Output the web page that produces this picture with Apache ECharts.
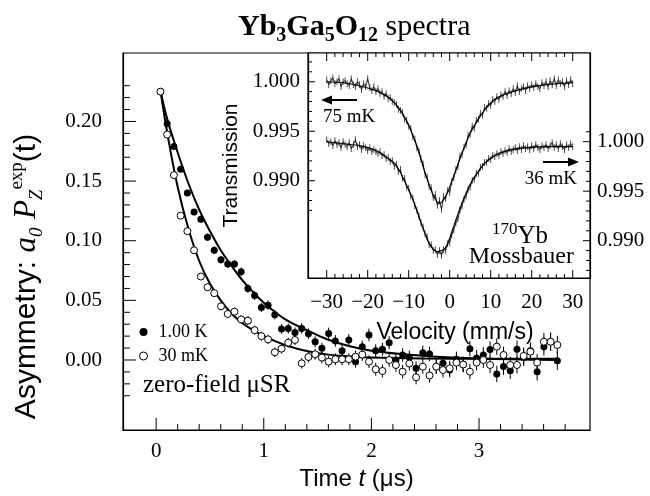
<!DOCTYPE html>
<html><head><meta charset="utf-8">
<script src="https://cdn.jsdelivr.net/npm/echarts@6/dist/echarts.min.js"></script>
<style>html,body{margin:0;padding:0;background:#fff}#c{width:650px;height:496px}</style>
</head><body><div id="c"></div><script>
// ---------- muSR data (main plot) ----------
const times = [0.04,0.1025,0.165,0.2275,0.29,0.3525,0.415,0.4775,0.54,0.6025,
0.665,0.7275,0.79,0.8525,0.915,0.9775,1.04,1.1025,1.165,1.2275,
1.29,1.3525,1.415,1.4775,1.54,1.6025,1.665,1.7275,1.79,1.8525,
1.915,1.9775,2.04,2.1025,2.165,2.2275,2.29,2.3525,2.415,2.4775,
2.54,2.6025,2.665,2.7275,2.79,2.8525,2.915,2.9775,3.04,3.1025,
3.165,3.2275,3.29,3.3525,3.415,3.4775,3.54,3.6025,3.665,3.7275];
const asym1K = [0.225,0.198,0.179,0.160,0.140,0.124,0.118,0.103,0.092,0.084,
0.0805,0.0805,0.074,0.060,0.054,0.044,0.046,0.038,0.026,0.0265,
0.023,0.0265,0.022,0.0153,0.0098,0.0223,0.016,0.0078,0.0168,-0.0014,
0.011,0.021,0.0078,0.009,0.0145,0.000,0.0042,0.0022,-0.007,0.0061,
0.005,-0.0056,-0.0028,-0.0084,0.0006,-0.0036,0.0095,0.0017,0.0042,0.0087,
-0.0117,-0.0055,-0.009,0.009,0.002,0.0077,-0.0098,0.0112,0.0153,-0.0006];
const asym30mK = [0.225,0.189,0.155,0.121,0.108,0.092,0.070,0.061,0.056,0.045,
0.0386,0.0405,0.034,0.033,0.025,0.020,0.0173,0.0065,0.0095,0.0145,
0.0168,-0.0028,0.0025,0.0048,0.002,-0.0014,0.0006,0.0006,0.0006,0.0028,
0.0045,-0.0014,-0.0078,-0.0092,0.000,-0.0042,-0.0098,-0.003,-0.0145,-0.0056,
-0.013,-0.0056,-0.0084,-0.007,-0.0022,-0.0038,-0.0098,-0.0022,0.000,-0.0042,
0.0112,0.0042,-0.0042,-0.0042,0.0034,0.007,-0.0022,0.0153,0.0153,0.0126];
const asymErr = [0.0018,0.002,0.002,0.0022,0.0024,0.0026,0.0028,0.003,0.0031,0.0032,
0.0033,0.0034,0.0035,0.0036,0.0037,0.0038,0.0039,0.004,0.0041,0.0042,
0.0043,0.0044,0.0045,0.0046,0.0047,0.0048,0.0049,0.005,0.005,0.0051,
0.0052,0.0053,0.0054,0.0055,0.0055,0.0056,0.0057,0.0058,0.0059,0.006,
0.006,0.0061,0.0062,0.0063,0.0064,0.0065,0.0065,0.0066,0.0067,0.0068,
0.0069,0.007,0.007,0.0071,0.0072,0.0073,0.0074,0.0075,0.0076,0.0077];
const fit1KT = [0.04,0.1,0.2,0.3,0.4,0.5,0.6,0.7,0.8,0.9,1.0,1.2,1.4,1.6,1.8,2.0,2.3,2.6,3.0,3.4,3.73];
const fit1KA = [0.226,0.203,0.174,0.148,0.126,0.108,0.092,0.079,0.067,0.057,0.048,0.034,0.025,0.017,0.0115,0.0078,0.0048,0.0028,0.0012,0.0004,0.0];
const fit30T = [0.04,0.1,0.2,0.3,0.4,0.5,0.6,0.7,0.8,0.9,1.0,1.1,1.2,1.4,1.6,1.8,2.0,2.5,3.0,3.73];
const fit30A = [0.226,0.192,0.145,0.110,0.083,0.064,0.050,0.039,0.031,0.025,0.020,0.016,0.0125,0.0075,0.0045,0.003,0.002,0.0012,0.001,0.001];
const timeTicks = [0,1,2,3];
const timeMinor = [0.2,0.4,0.6,0.8,1.2,1.4,1.6,1.8,2.2,2.4,2.6,2.8,3.2,3.4,3.6,3.8];
const asymTicks = [0,0.05,0.10,0.15,0.20];
const asymMinor = [-0.03,-0.02,-0.01,0.01,0.02,0.03,0.04,0.06,0.07,0.08,0.09,0.11,0.12,0.13,0.14,0.16,0.17,0.18,0.19,0.21,0.22,0.23];

// ---------- Mossbauer data (inset) ----------
const velocity = [-30,-29.5,-29,-28.5,-28,-27.5,-27,-26.5,-26,-25.5,
-25,-24.5,-24,-23.5,-23,-22.5,-22,-21.5,-21,-20.5,
-20,-19.5,-19,-18.5,-18,-17.5,-17,-16.5,-16,-15.5,
-15,-14.5,-14,-13.5,-13,-12.5,-12,-11.5,-11,-10.5,
-10,-9.5,-9,-8.5,-8,-7.5,-7,-6.5,-6,-5.5,
-5,-4.5,-4,-3.5,-3,-2.5,-2,-1.5,-1,-0.5,
0,0.5,1,1.5,2,2.5,3,3.5,4,4.5,
5,5.5,6,6.5,7,7.5,8,8.5,9,9.5,
10,10.5,11,11.5,12,12.5,13,13.5,14,14.5,
15,15.5,16,16.5,17,17.5,18,18.5,19,19.5,
20,20.5,21,21.5,22,22.5,23,23.5,24,24.5,
25,25.5,26,26.5,27,27.5,28,28.5,29,29.5,30];
const trans75mK = [1.0002,0.9997,1.0001,1.0004,0.9998,1.0000,1.0003,0.9995,1.0000,1.0001,
0.9998,0.9996,1.0003,0.9997,0.9995,1.0000,0.9997,0.9992,0.9998,0.9995,
1.0003,0.9994,0.9991,0.9995,0.9990,0.9993,0.9988,0.9990,0.9985,0.9988,
0.9983,0.9984,0.9980,0.9979,0.9977,0.9972,0.9971,0.9969,0.9962,0.9961,
0.9955,0.9953,0.9944,0.9942,0.9933,0.9930,0.9922,0.9917,0.9906,0.9904,
0.9894,0.9893,0.9883,0.9886,0.9875,0.9880,0.9871,0.9884,0.9882,0.9890,
0.9888,0.9899,0.9903,0.9911,0.9914,0.9925,0.9926,0.9934,0.9936,0.9946,
0.9947,0.9955,0.9953,0.9961,0.9962,0.9968,0.9966,0.9974,0.9973,0.9978,
0.9976,0.9982,0.9980,0.9985,0.9982,0.9987,0.9985,0.9990,0.9986,0.9991,
0.9988,0.9993,0.9989,0.9996,0.9990,0.9993,0.9995,0.9991,0.9996,0.9993,
0.9997,0.9994,0.9998,0.9995,0.9993,0.9999,0.9996,1.0000,0.9995,1.0001,
0.9997,1.0003,0.9996,1.0002,0.9998,1.0000,0.9995,1.0001,0.9997,1.0002,0.9998];
const trans36mK = [1.0002,0.9998,1.0000,0.9996,1.0001,0.9997,0.9999,0.9994,1.0000,0.9997,
0.9995,0.9999,0.9993,0.9997,1.0002,0.9995,0.9997,0.9992,0.9996,0.9994,
0.9991,0.9994,0.9990,0.9992,0.9990,0.9988,0.9990,0.9986,0.9987,0.9983,
0.9984,0.9980,0.9981,0.9975,0.9977,0.9970,0.9972,0.9963,0.9963,0.9954,
0.9953,0.9945,0.9943,0.9935,0.9931,0.9925,0.9918,0.9914,0.9907,0.9904,
0.9896,0.9896,0.9890,0.9891,0.9886,0.9890,0.9885,0.9891,0.9890,0.9897,
0.9898,0.9906,0.9911,0.9918,0.9922,0.9931,0.9935,0.9942,0.9945,0.9952,
0.9954,0.9961,0.9962,0.9968,0.9968,0.9974,0.9975,0.9979,0.9979,0.9983,
0.9982,0.9986,0.9985,0.9988,0.9986,0.9990,0.9988,0.9991,0.9989,0.9993,
0.9990,0.9992,0.9994,0.9991,0.9995,0.9992,0.9996,0.9993,0.9995,0.9992,
0.9996,0.9993,0.9997,0.9994,0.9992,0.9996,0.9994,0.9997,0.9993,0.9996,
0.9999,0.9994,0.9997,0.9993,0.9998,0.9995,0.9992,0.9997,0.9994,0.9998,0.9995];
const transErr = 0.00034;
const fit75V = [-30,-26,-22,-18,-16,-14,-12,-10,-8,-6,-4,-2.5,-1,1,3,5,7,9,11,14,18,22,26,30];
const fit75T = [1.0000,0.9999,0.9996,0.9991,0.9987,0.9981,0.9971,0.9956,0.9935,0.9908,0.9885,0.9877,0.9884,0.9905,0.9928,0.9948,0.9962,0.9974,0.9982,0.9988,0.9993,0.9996,0.9998,0.9999];
const fit36V = [-30,-26,-22,-18,-15,-13,-11,-9,-7,-5,-3,-1,1,3,5,7,9,12,15,19,24,30];
const fit36T = [1.0000,0.9998,0.9996,0.9991,0.9983,0.9976,0.9960,0.9942,0.9918,0.9897,0.9889,0.9893,0.9915,0.9938,0.9957,0.9970,0.9980,0.9988,0.9992,0.9994,0.9995,0.9995];
const velTicks = [-30,-20,-10,0,10,20,30];
const velMinor = [-28,-26,-24,-22,-18,-16,-14,-12,-8,-6,-4,-2,2,4,6,8,12,14,16,18,22,24,26,28];
const transTicks = [0.990,0.995,1.000];
const transMinorL = [0.987,0.988,0.989,0.991,0.992,0.993,0.994,0.996,0.997,0.998,0.999,1.001,1.002];
const transMinorR = [0.987,0.988,0.989,0.991,0.992,0.993,0.994,0.996,0.997,0.998,0.999,1.001];

// ---------- chart ----------
const SERIF = '"Liberation Serif","Times New Roman",serif';
const SANS = '"Liberation Sans",Arial,sans-serif';
function zip(a, b, c) { return a.map((v, i) => c === undefined ? [v, b[i]] : [v, b[i], Array.isArray(c) ? c[i] : c]); }
const LINE = {show: true, onZero: false, lineStyle: {color: '#000', width: 1.2}};
function ax(o) {
  return Object.assign({type: 'value', splitLine: {show: false}, axisLine: LINE,
    axisLabel: {show: false}, axisTick: {show: false}, axisPointer: {show: false}}, o);
}
const minus = v => (v < 0 ? '\u2212' + Math.abs(v) : String(v));
// vertical bar centred on (x, y) with half-height e (data units)
function errRender(color, width) {
  return function (params, api) {
    const x = api.value(0), y = api.value(1), e = api.value(2);
    const p1 = api.coord([x, y - e]), p2 = api.coord([x, y + e]);
    return {type: 'line', shape: {x1: p1[0], y1: p1[1], x2: p2[0], y2: p2[1]}, style: {stroke: color, lineWidth: width}};
  };
}
// horizontal bar centred on (x, y) with half-width e (data units)
function hbarRender(color, width) {
  return function (params, api) {
    const x = api.value(0), y = api.value(1), e = api.value(2);
    const p1 = api.coord([x - e, y]), p2 = api.coord([x + e, y]);
    return {type: 'line', shape: {x1: p1[0], y1: p1[1], x2: p2[0], y2: p2[1]}, style: {stroke: color, lineWidth: width}};
  };
}

const MAIN = {min: -0.308, max: 4.031};
const MAINY = {min: -0.0587, max: 0.2574};
const INX = {min: -34.56, max: 34.22};
const INL = {min: 0.98017, max: 1.0029};
const INR = {min: 0.98623, max: 1.00896};
const MW = 470, MH = 377, IW = 282, IH = 225;   // grid sizes in px
// tick length (px) expressed in each axis' data units
const mx = px => px * (MAIN.max - MAIN.min) / MW;
const my = px => px * (MAINY.max - MAINY.min) / MH;
const ix = px => px * (INX.max - INX.min) / IW;
const iyL = px => px * (INL.max - INL.min) / IH;
const bottomTicks = (vals, edge, h) => vals.map(v => [v, edge + h / 2, h / 2]);
const topTicks = (vals, edge, h) => vals.map(v => [v, edge - h / 2, h / 2]);
const leftTicks = (vals, edge, w) => vals.map(v => [edge + w / 2, v, w / 2]);
const rightTicks = (vals, edge, w) => vals.map(v => [edge - w / 2, v, w / 2]);

const annotations = [
  {type: 'line', z: 20, shape: {x1: 357, y1: 100, x2: 330, y2: 100}, style: {stroke: '#000', lineWidth: 2}},
  {type: 'polygon', z: 20, shape: {points: [[321, 100], [332, 95.5], [332, 104.5]]}, style: {fill: '#000'}},
  {type: 'text', z: 20, x: 323, y: 117, style: {text: '75 mK', fill: '#000', fontFamily: SERIF, fontSize: 19, align: 'left', verticalAlign: 'middle'}},
  {type: 'line', z: 20, shape: {x1: 543, y1: 162, x2: 570, y2: 162}, style: {stroke: '#000', lineWidth: 2}},
  {type: 'polygon', z: 20, shape: {points: [[579, 162], [568, 157.5], [568, 166.5]]}, style: {fill: '#000'}},
  {type: 'text', z: 20, x: 577, y: 179, style: {text: '36 mK', fill: '#000', fontFamily: SERIF, fontSize: 19, align: 'right', verticalAlign: 'middle'}},
  {type: 'text', z: 20, x: 548, y: 236, style: {text: '{p|170}{m|Yb}', align: 'right', verticalAlign: 'middle', rich: {
    p: {fontFamily: SERIF, fontSize: 17, lineHeight: 16, verticalAlign: 'top', fill: '#000'},
    m: {fontFamily: SERIF, fontSize: 25, lineHeight: 30, fill: '#000'}}}},
  {type: 'text', z: 20, x: 574, y: 257, style: {text: 'Mossbauer', fill: '#000', fontFamily: SERIF, fontSize: 24, align: 'right', verticalAlign: 'middle'}},
  {type: 'text', z: 20, x: 143, y: 385, style: {text: 'zero-field \u03bcSR', fill: '#000', fontFamily: SERIF, fontSize: 25, align: 'left', verticalAlign: 'middle'}}
];

const option = {
  animation: false,
  backgroundColor: '#fff',
  title: {
    text: '{b|Yb}{bs|3}{b|Ga}{bs|5}{b|O}{bs|12}{n| spectra}', left: 233, top: 3,
    textStyle: {rich: {
      b: {fontFamily: SERIF, fontWeight: 'bold', fontSize: 30, lineHeight: 38, color: '#000'},
      bs: {fontFamily: SERIF, fontWeight: 'bold', fontSize: 20, lineHeight: 18, verticalAlign: 'bottom', color: '#000'},
      n: {fontFamily: SERIF, fontWeight: 'normal', fontSize: 30, lineHeight: 38, color: '#000'}
    }}
  },
  legend: {
    orient: 'vertical', left: 139, top: 323, padding: 0, itemGap: 6, itemWidth: 8, itemHeight: 8, icon: 'circle',
    textStyle: {fontFamily: SERIF, fontSize: 18, color: '#000', padding: [0, 0, 0, 6]},
    data: [{name: '1.00 K', itemStyle: {color: '#000'}},
           {name: '30 mK', itemStyle: {color: '#fff', borderColor: '#000', borderWidth: 1}}]
  },
  grid: [
    {left: 120, top: 53, width: MW, height: MH, show: true, borderColor: '#000', borderWidth: 1.2, backgroundColor: 'transparent'},
    {left: 308, top: 53, width: IW, height: IH, show: true, borderColor: '#000', borderWidth: 1.2, backgroundColor: '#fff', z: 5}
  ],
  xAxis: [
    ax(Object.assign({gridIndex: 0, position: 'bottom',
      axisLabel: {show: true, customValues: timeTicks, margin: 11, color: '#000', fontFamily: SERIF, fontSize: 21, formatter: v => String(v)},
      name: 'Time {i|t} (\u03bcs)', nameLocation: 'middle', nameGap: 30,
      nameTextStyle: {color: '#000', fontFamily: SANS, fontSize: 24, rich: {i: {fontFamily: SANS, fontStyle: 'italic', fontSize: 24}}}}, MAIN)),
    ax(Object.assign({gridIndex: 1, position: 'bottom', z: 6,
      axisLabel: {show: true, customValues: velTicks, margin: 14, color: '#000', fontFamily: SERIF, fontSize: 21, formatter: minus},
      name: 'Velocity (mm/s)', nameLocation: 'middle', nameGap: 43,
      nameTextStyle: {color: '#000', fontFamily: SANS, fontSize: 23, padding: [0, 0, 0, 12]}}, INX))
  ],
  yAxis: [
    ax(Object.assign({gridIndex: 0, position: 'left',
      axisLabel: {show: true, customValues: asymTicks, margin: 21, color: '#000', fontFamily: SERIF, fontSize: 21, formatter: v => v.toFixed(2)},
      name: '{s|Asymmetry: }{i|a}{sb|0}{s| }{i|P}{sb|Z}{sp|exp}{s|(t)}', nameLocation: 'middle', nameRotate: 90, nameGap: 77,
      nameTextStyle: {color: '#000', fontFamily: SANS, fontSize: 30, padding: [0, 70, 0, 0], rich: {
        s: {fontFamily: SANS, fontSize: 30, lineHeight: 38, color: '#000'},
        i: {fontFamily: SERIF, fontStyle: 'italic', fontSize: 31, lineHeight: 38, color: '#000'},
        sb: {fontFamily: SERIF, fontStyle: 'italic', fontSize: 19, lineHeight: 19, verticalAlign: 'bottom', color: '#000'},
        sp: {fontFamily: SERIF, fontSize: 19, lineHeight: 19, verticalAlign: 'top', color: '#000'}
      }}}, MAINY)),
    ax(Object.assign({gridIndex: 1, position: 'left', z: 6,
      axisLabel: {show: true, customValues: transTicks, margin: 8, color: '#000', fontFamily: SERIF, fontSize: 21, formatter: v => v.toFixed(3)},
      name: 'Transmission', nameLocation: 'middle', nameRotate: 90, nameGap: 66,
      nameTextStyle: {color: '#000', fontFamily: SANS, fontSize: 21}}, INL)),
    ax(Object.assign({gridIndex: 1, position: 'right', z: 6,
      axisLabel: {show: true, customValues: transTicks, margin: 7, color: '#000', fontFamily: SERIF, fontSize: 21, formatter: v => v.toFixed(3)}}, INR))
  ],
  series: [
    {type: 'line', name: 'fit 1.00 K', xAxisIndex: 0, yAxisIndex: 0, data: zip(fit1KT, fit1KA), smooth: 0.4, showSymbol: false, silent: true,
      lineStyle: {color: '#000', width: 2}, z: 2},
    {type: 'line', name: 'fit 30 mK', xAxisIndex: 0, yAxisIndex: 0, data: zip(fit30T, fit30A), smooth: 0.4, showSymbol: false, silent: true,
      lineStyle: {color: '#000', width: 2}, z: 2},
    {type: 'custom', name: 'err 1.00 K', xAxisIndex: 0, yAxisIndex: 0, data: zip(times, asym1K, asymErr), renderItem: errRender('#000', 1), z: 3, silent: true},
    {type: 'custom', name: 'err 30 mK', xAxisIndex: 0, yAxisIndex: 0, data: zip(times, asym30mK, asymErr), renderItem: errRender('#000', 1), z: 3, silent: true},
    {type: 'scatter', name: '1.00 K', xAxisIndex: 0, yAxisIndex: 0, data: zip(times, asym1K), symbol: 'circle', symbolSize: 7,
      itemStyle: {color: '#000', opacity: 1}, z: 4},
    {type: 'scatter', name: '30 mK', xAxisIndex: 0, yAxisIndex: 0, data: zip(times, asym30mK), symbol: 'circle', symbolSize: 7,
      itemStyle: {color: '#fff', borderColor: '#000', borderWidth: 1, opacity: 1}, z: 4},
    {type: 'custom', name: 'err 75 mK', xAxisIndex: 1, yAxisIndex: 1, data: zip(velocity, trans75mK, transErr), renderItem: errRender('#222', 0.8), z: 7, silent: true},
    {type: 'line', name: '75 mK', xAxisIndex: 1, yAxisIndex: 1, data: zip(velocity, trans75mK), showSymbol: false, silent: true,
      lineStyle: {color: '#1a1a1a', width: 0.9}, z: 7},
    {type: 'line', name: 'fit 75 mK', xAxisIndex: 1, yAxisIndex: 1, data: zip(fit75V, fit75T), smooth: 0.3, showSymbol: false, silent: true,
      lineStyle: {color: '#000', width: 1.1}, z: 8},
    {type: 'custom', name: 'err 36 mK', xAxisIndex: 1, yAxisIndex: 2, data: zip(velocity, trans36mK, transErr), renderItem: errRender('#222', 0.8), z: 7, silent: true},
    {type: 'line', name: '36 mK', xAxisIndex: 1, yAxisIndex: 2, data: zip(velocity, trans36mK), showSymbol: false, silent: true,
      lineStyle: {color: '#1a1a1a', width: 0.9}, z: 7},
    {type: 'line', name: 'fit 36 mK', xAxisIndex: 1, yAxisIndex: 2, data: zip(fit36V, fit36T), smooth: 0.3, showSymbol: false, silent: true,
      lineStyle: {color: '#000', width: 1.1}, z: 8},
    // inward frame ticks (same bar renderer as the error bars, placed through the axis scales)
    {type: 'custom', name: 'ticks time', xAxisIndex: 0, yAxisIndex: 0, silent: true, z: 3, renderItem: errRender('#000', 1),
      data: bottomTicks(timeTicks, MAINY.min, my(12)).concat(bottomTicks(timeMinor, MAINY.min, my(6)))},
    {type: 'custom', name: 'ticks asym', xAxisIndex: 0, yAxisIndex: 0, silent: true, z: 3, renderItem: hbarRender('#000', 1),
      data: leftTicks(asymTicks, MAIN.min, mx(13)).concat(leftTicks(asymMinor, MAIN.min, mx(7)))},
    {type: 'custom', name: 'ticks velocity', xAxisIndex: 1, yAxisIndex: 1, silent: true, z: 9, renderItem: errRender('#000', 1),
      data: bottomTicks(velTicks, INL.min, iyL(8)).concat(bottomTicks(velMinor, INL.min, iyL(4)),
            topTicks(velTicks, INL.max, iyL(8)), topTicks(velMinor, INL.max, iyL(4)))},
    {type: 'custom', name: 'ticks trans left', xAxisIndex: 1, yAxisIndex: 1, silent: true, z: 9, renderItem: hbarRender('#000', 1),
      data: leftTicks(transTicks, INX.min, ix(7)).concat(leftTicks(transMinorL, INX.min, ix(4)))},
    {type: 'custom', name: 'ticks trans right', xAxisIndex: 1, yAxisIndex: 2, silent: true, z: 9, renderItem: hbarRender('#000', 1),
      data: rightTicks(transTicks, INX.max, ix(7)).concat(rightTicks(transMinorR, INX.max, ix(4)))}
  ],
  graphic: {elements: annotations}
};
const chart = echarts.init(document.getElementById('c'), null, {renderer: 'canvas'});
chart.setOption(option);
</script></body></html>
